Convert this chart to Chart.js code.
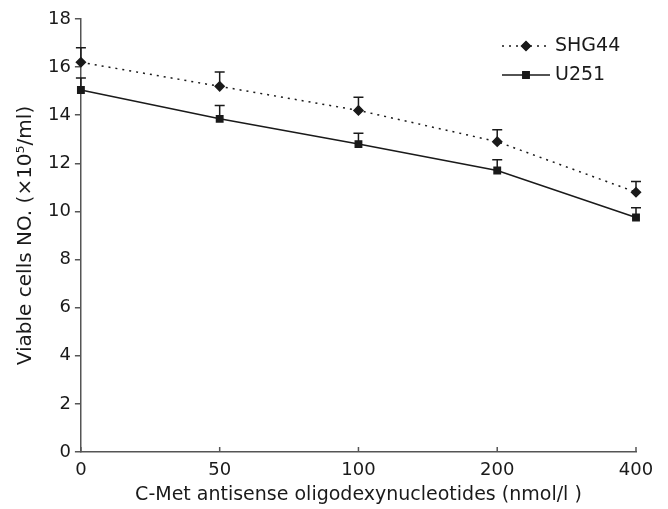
<!DOCTYPE html>
<html>
<head>
<meta charset="utf-8">
<script src="https://cdn.jsdelivr.net/npm/chart.js@4"></script>
<style>
  html, body { margin: 0; padding: 0; background: #fff; }
  #wrap { width: 668px; height: 509px; }
</style>
</head>
<body>
<div id="wrap"><canvas id="chart"></canvas></div>
<script>
const doses = ["0", "50", "100", "200", "400"];
const shg44 = [16.2, 15.2, 14.2, 12.9, 10.8];
const shg44Err = [0.6, 0.6, 0.55, 0.5, 0.45];
const u251 = [15.05, 13.85, 12.8, 11.7, 9.75];
const u251Err = [0.5, 0.55, 0.45, 0.45, 0.4];
const yTicks = [0, 2, 4, 6, 8, 10, 12, 14, 16, 18];

const FONT = "'DejaVu Sans', Verdana, sans-serif";
const INK = "#1a1a1a";

// upward-only error bars with a small cap
const errorBars = {
  id: "errorBars",
  afterDatasetsDraw(chart) {
    const ctx = chart.ctx;
    const x = chart.scales.x, y = chart.scales.y;
    chart.data.datasets.forEach(ds => {
      ds.data.forEach((v, i) => {
        const px = x.getPixelForValue(i);
        const py = y.getPixelForValue(v);
        const pt = y.getPixelForValue(v + ds.errors[i]);
        ctx.save();
        ctx.strokeStyle = INK;
        ctx.lineWidth = 1.5;
        ctx.beginPath();
        ctx.moveTo(px, py);
        ctx.lineTo(px, pt);
        ctx.moveTo(px - 5, pt);
        ctx.lineTo(px + 5, pt);
        ctx.stroke();
        ctx.restore();
      });
    });
  }
};

// x tick marks point up into the plot
const innerTicks = {
  id: "innerTicks",
  afterDraw(chart) {
    const ctx = chart.ctx;
    const x = chart.scales.x;
    const base = chart.chartArea.bottom;
    ctx.save();
    ctx.strokeStyle = "#555";
    ctx.lineWidth = 1.5;
    doses.forEach((d, i) => {
      const px = x.getPixelForValue(i);
      ctx.beginPath();
      ctx.moveTo(px, base);
      ctx.lineTo(px, base - 5);
      ctx.stroke();
    });
    ctx.restore();
  }
};

// legend in the upper right, line sample + marker
const cornerLegend = {
  id: "cornerLegend",
  afterDraw(chart) {
    const ctx = chart.ctx;
    const x0 = 502, x1 = 550, ys = [46, 75];
    ctx.save();
    chart.data.datasets.forEach((ds, k) => {
      const yy = ys[k];
      ctx.strokeStyle = INK;
      ctx.lineWidth = 1.5;
      ctx.setLineDash(ds.borderDash || []);
      ctx.beginPath();
      ctx.moveTo(x0, yy);
      ctx.lineTo(x1, yy);
      ctx.stroke();
      ctx.setLineDash([]);
      Chart.helpers.drawPoint(ctx, {pointStyle: ds.pointStyle, radius: ds.pointRadius, borderWidth: 1}, (x0 + x1) / 2, yy);
      ctx.fillStyle = INK;
      ctx.fill();
      ctx.font = "19px " + FONT;
      ctx.textBaseline = "middle";
      ctx.fillText(ds.label, x1 + 5, yy);
    });
    ctx.restore();
  }
};

new Chart(document.getElementById("chart"), {
  type: "line",
  data: {
    labels: doses,
    datasets: [{
      label: "SHG44",
      data: shg44,
      errors: shg44Err,
      borderColor: INK,
      borderWidth: 1.5,
      borderDash: [2, 5],
      pointStyle: "rectRot",
      pointRadius: 4.5,
      pointBackgroundColor: INK,
      pointBorderColor: INK,
      tension: 0
    }, {
      label: "U251",
      data: u251,
      errors: u251Err,
      borderColor: INK,
      borderWidth: 1.5,
      pointStyle: "rect",
      pointRadius: 4.5,
      pointBackgroundColor: INK,
      pointBorderColor: INK,
      tension: 0
    }]
  },
  options: {
    responsive: true,
    maintainAspectRatio: false,
    animation: false,
    layout: { padding: { top: 19, right: 32, left: 10, bottom: 4 } },
    plugins: {
      legend: { display: false },
      tooltip: { enabled: false }
    },
    scales: {
      x: {
        offset: false,
        grid: { display: false, drawTicks: false },
        border: { color: "#555", width: 1.5 },
        ticks: { color: INK, padding: 9, font: { family: FONT, size: 18, lineHeight: 1 } },
        title: {
          display: true,
          text: "C-Met antisense oligodexynucleotides (nmol/l )",
          color: INK,
          padding: { top: -2, bottom: 0 },
          font: { family: FONT, size: 19, lineHeight: 1 }
        }
      },
      y: {
        min: 0,
        max: 18,
        afterBuildTicks: axis => { axis.ticks = yTicks.map(v => ({ value: v })); },
        grid: { drawOnChartArea: false, tickLength: 6, color: "#555", lineWidth: 1.5 },
        border: { color: "#555", width: 1.5 },
        ticks: { color: INK, padding: 4, font: { family: FONT, size: 18 } },
        title: {
          display: true,
          text: "Viable cells NO. (\u00d710\u2075/ml)",
          color: INK,
          padding: { bottom: 6 },
          font: { family: FONT, size: 20 }
        }
      }
    }
  },
  plugins: [errorBars, innerTicks, cornerLegend]
});
</script>
</body>
</html>
